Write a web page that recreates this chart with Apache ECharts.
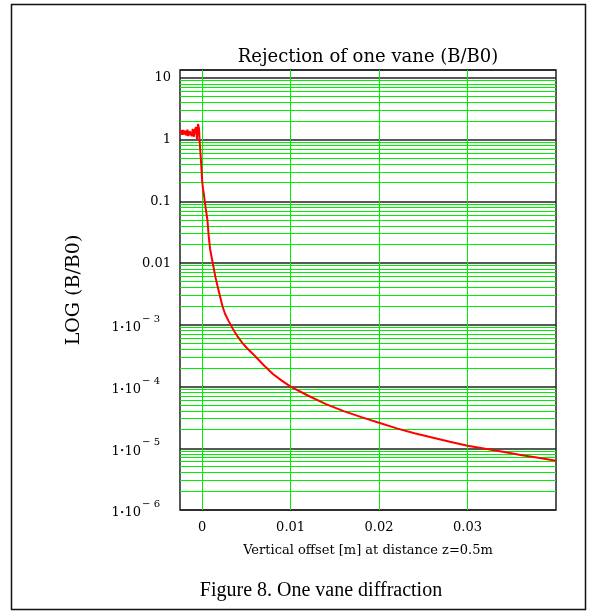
<!DOCTYPE html>
<html>
<head>
<meta charset="utf-8">
<style>
html,body{margin:0;padding:0;background:#fff;}
#chart{width:589px;height:614px;}
</style>
<script src="https://cdn.jsdelivr.net/npm/echarts@6/dist/echarts.min.js"></script>
</head>
<body>
<div id="chart"></div>
<script>
// ---- data ----
const offsets = [
  -0.0025, -0.00238, -0.00226, -0.00214, -0.00202, -0.0019, -0.00178, -0.00166,
  -0.00154, -0.00142, -0.0013, -0.00118, -0.00106, -0.00094, -0.00082, -0.0007,
  -0.00058, -0.00046, -0.00035, -0.00028, -0.0002, -0.0001, 0, 0.0001, 0.0002,
  0.0003, 0.00045, 0.0006, 0.00075, 0.0009, 0.0011, 0.0013, 0.0015, 0.0017,
  0.002, 0.0023, 0.0026, 0.003, 0.0035, 0.004, 0.0045, 0.005, 0.006, 0.007,
  0.008, 0.009, 0.01, 0.012, 0.014, 0.016, 0.018, 0.02, 0.022, 0.024, 0.026,
  0.028, 0.03, 0.032, 0.034, 0.036, 0.038, 0.04
];
const rejection = [
  1.30, 1.42, 1.20, 1.44, 1.22, 1.40, 1.17, 1.45,
  1.15, 1.38, 1.47, 1.14, 1.50, 1.12, 1.42, 1.60,
  1.02, 1.80, 1.50, 0.95, 0.64, 0.40, 0.22, 0.16, 0.13,
  0.10, 0.07, 0.05, 0.027, 0.017, 0.012, 0.0085, 0.006, 0.0045,
  0.003, 0.002, 0.0015, 0.00115, 0.00085, 0.00065, 0.00052, 0.00043, 0.00031, 0.00022,
  0.00016, 0.000125, 0.0001, 0.000071, 0.000052, 0.00004, 0.000032, 0.000026, 0.000021, 0.0000175, 0.000015,
  0.0000128, 0.000011, 0.0000098, 0.0000088, 0.0000078, 0.000007, 0.0000063
];
const xTickValues = [0, 0.01, 0.02, 0.03];
const decadeExponents = [-6, -5, -4, -3, -2, -1, 0, 1];
const minorMultipliers = [2, 3, 4, 5, 6, 7, 8, 9];
const titleText = 'Rejection of one vane (B/B0)';
const yName = 'LOG (B/B0)';
const xName = 'Vertical offset [m] at distance z=0.5m';
const captionText = 'Figure 8. One vane diffraction';

// ---- build ----
const SERIF = '"DejaVu Serif", serif';
const X_MIN = -0.0025, X_MAX = 0.04, Y_MIN = 1e-6, Y_MAX = 13.5;
const GREEN = '#00ee00';
const curve = offsets.map((x, i) => [x, rejection[i]]);

// green grid lines: [x, y, kind] kind 0 = horizontal at y, 1 = vertical at x
const gridItems = [];
decadeExponents.slice(0, -1).forEach(k => {
  minorMultipliers.forEach(m => gridItems.push([X_MIN, m * Math.pow(10, k), 0]));
});
xTickValues.forEach(v => gridItems.push([v, 1, 1]));

function renderGridLine(params, api) {
  const kind = api.value(2);
  const snap = p => Math.floor(p) + 0.5;
  if (kind === 0) {
    const y = api.value(1);
    const a = api.coord([X_MIN, y]);
    const b = api.coord([X_MAX, y]);
    const yy = snap(a[1]);
    return { type: 'line', shape: { x1: a[0], y1: yy, x2: b[0], y2: yy },
             style: { stroke: GREEN, lineWidth: 1 } };
  } else {
    const x = api.value(0);
    const a = api.coord([x, Y_MIN]);
    const b = api.coord([x, Y_MAX]);
    const xx = snap(a[0]);
    return { type: 'line', shape: { x1: xx, y1: a[1], x2: xx, y2: b[1] },
             style: { stroke: GREEN, lineWidth: 1 } };
  }
}

function yLabel(v) {
  const k = Math.round(Math.log10(v));
  if (Math.abs(Math.log10(v) - k) > 1e-6) return '';
  if (k === 1) return '10';
  if (k === 0) return '1';
  if (k === -1) return '0.1';
  if (k === -2) return '0.01';
  return '{b|1}{d|•}{b|10}{s|\u2212 ' + (-k) + '}';
}

const chart = echarts.init(document.getElementById('chart'), null, { renderer: 'canvas' });
chart.setOption({
  animation: false,
  backgroundColor: '#fff',
  grid: {
    left: 180, top: 70, right: 33, bottom: 104,
    show: true, borderColor: '#222', borderWidth: 1.5, backgroundColor: 'transparent'
  },
  xAxis: {
    type: 'value',
    min: X_MIN, max: X_MAX,
    name: xName,
    nameLocation: 'middle',
    nameGap: 34,
    nameTextStyle: { fontFamily: SERIF, fontSize: 13, color: '#000' },
    axisLine: { show: false },
    axisTick: { show: false },
    splitLine: { show: false },
    axisLabel: {
      customValues: xTickValues,
      margin: 11,
      fontFamily: SERIF, fontSize: 13, color: '#000',
      formatter: v => String(Number(v.toFixed(4)))
    }
  },
  yAxis: {
    type: 'log',
    logBase: 10,
    min: Y_MIN, max: Y_MAX,
    name: yName,
    nameLocation: 'middle',
    nameRotate: 90,
    nameGap: 96,
    nameTextStyle: { fontFamily: SERIF, fontSize: 19, color: '#000' },
    axisLine: { show: false },
    axisTick: { show: false },
    splitLine: { show: true, lineStyle: { color: '#222', width: 1.5 } },
    axisLabel: {
      showMaxLabel: false,
      margin: 9,
      fontFamily: SERIF, fontSize: 13, color: '#000',
      formatter: yLabel,
      rich: {
        b: { fontFamily: SERIF, fontSize: 13, color: '#000', padding: [6, 0, 0, 0] },
        d: { fontFamily: SERIF, fontSize: 8, color: '#000', padding: [6, 0, 0, 0] },
        s: { fontFamily: SERIF, fontSize: 10, color: '#000', padding: [0, 11, 11, 1] }
      }
    }
  },
  graphic: [
    { type: 'rect', z: 100, silent: true,
      shape: { x: 11.5, y: 4.5, width: 574, height: 605 },
      style: { fill: 'none', stroke: '#111', lineWidth: 1.5 } },
    { type: 'text', silent: true, x: 368, y: 57,
      style: { text: titleText, font: '18px "DejaVu Serif", serif', fill: '#000',
               textAlign: 'center', textVerticalAlign: 'middle' } },
    { type: 'text', silent: true, x: 321, y: 591,
      style: { text: captionText, font: '20px "Liberation Serif", serif', fill: '#000',
               textAlign: 'center', textVerticalAlign: 'middle' } }
  ],
  series: [
    {
      type: 'custom',
      z: 1,
      silent: true,
      clip: false,
      renderItem: renderGridLine,
      encode: { x: 0, y: 1 },
      data: gridItems
    },
    {
      type: 'line',
      z: 3,
      data: curve,
      symbol: 'none',
      smooth: false,
      lineStyle: { color: '#ff0000', width: 2 }
    }
  ]
});
</script>
</body>
</html>
